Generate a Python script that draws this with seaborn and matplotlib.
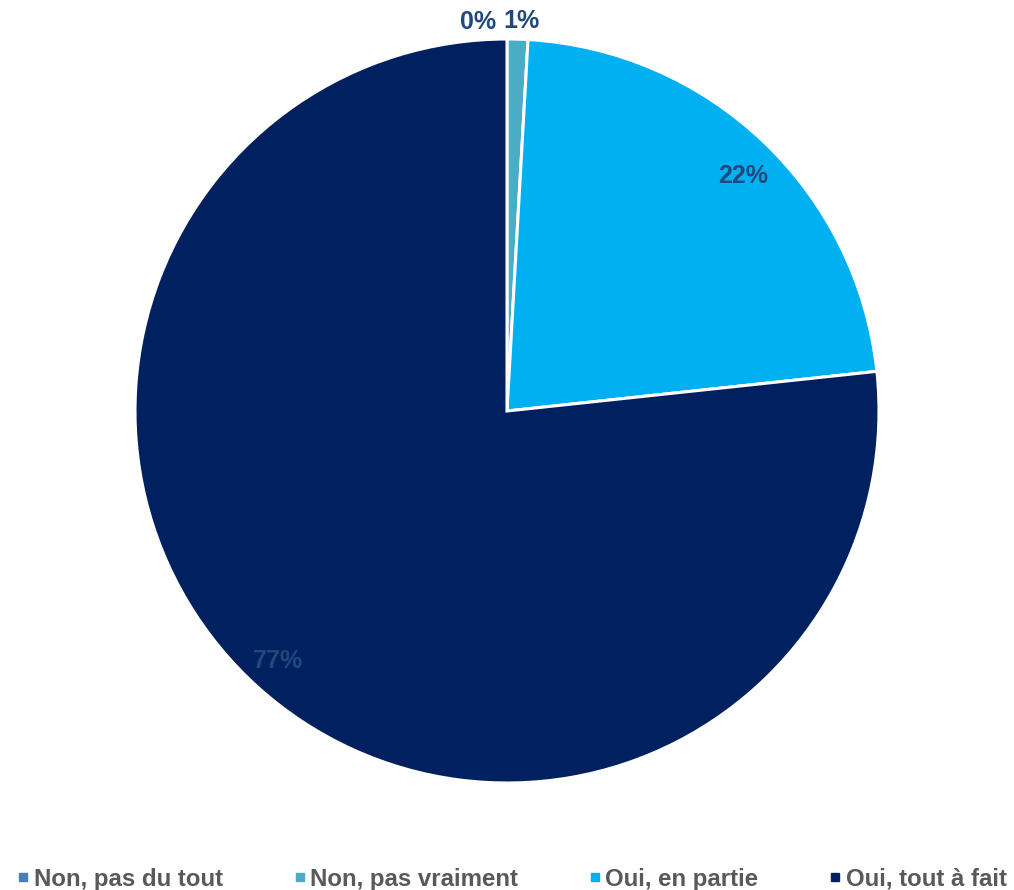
import numpy as np
import matplotlib
matplotlib.use("Agg")
import matplotlib.pyplot as plt
from matplotlib.lines import Line2D
import seaborn as sns

categories = ["Non, pas du tout", "Non, pas vraiment", "Oui, en partie", "Oui, tout à fait"]
values = [0.0, 0.9, 22.4, 76.7]
labels = ["0%", "1%", "22%", "77%"]
colors = sns.color_palette(["#4A7EBB", "#4BACC6", "#00B0F0", "#002060"])

sns.set_style("white")
plt.rcParams["font.family"] = ["Liberation Sans", "DejaVu Sans"]

fig = plt.figure(figsize=(10.14, 8.9), dpi=100)
ax = fig.add_axes([135 / 1014, (890 - 783) / 890, 744 / 1014, 744 / 890])

wedges, _ = ax.pie(values, colors=colors, startangle=90, counterclock=False,
                   wedgeprops=dict(edgecolor="white", linewidth=2.2), radius=1.0)
ax.set_xlim(-1, 1)
ax.set_ylim(-1, 1)
ax.set_aspect("equal")
ax.axis("off")

lab_color = "#1F497D"
fs = 18
for i, (w, lab) in enumerate(zip(wedges, labels)):
    mid = np.deg2rad((w.theta1 + w.theta2) / 2)
    if values[i] < 3:
        r = 1.05
        x = np.cos(mid) * r
        y = np.sin(mid) * r
        if i == 0:
            ax.text(x - 0.03, y - 0.005, lab, ha="right", va="center", fontsize=fs,
                    fontweight="bold", color=lab_color)
        else:
            ax.text(x - 0.04, y, lab, ha="left", va="center", fontsize=fs,
                    fontweight="bold", color=lab_color)
    else:
        r = 0.905
        dy = -0.025 if i == 2 else 0.0
        dx = 0.01 if i == 2 else -0.01
        ax.text(np.cos(mid) * r + dx, np.sin(mid) * r + dy, lab, ha="center", va="center",
                fontsize=fs, fontweight="bold", color=lab_color)

handles = [Line2D([0], [0], marker="s", linestyle="none", markersize=6,
                  markerfacecolor=c, markeredgecolor=c) for c in colors]
leg = fig.legend(handles, categories, loc="lower center", ncol=4,
                 bbox_to_anchor=(0.505, -0.025), frameon=False,
                 handlelength=0.5, handletextpad=0.18, columnspacing=2.95,
                 prop=dict(family=["Liberation Sans"], weight="bold", size=17.3))
for t in leg.get_texts():
    t.set_color("#595959")

fig.savefig("out.png", dpi=100)
